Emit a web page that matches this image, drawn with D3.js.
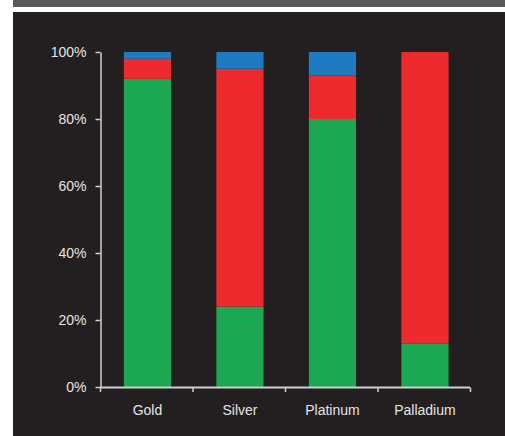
<!DOCTYPE html>
<html><head><meta charset="utf-8">
<script src="https://cdn.jsdelivr.net/npm/d3@7/dist/d3.min.js"></script>
<style>html,body{margin:0;padding:0;background:#fff;}svg{display:block;}</style>
</head><body>
<svg id="c" width="505" height="436"></svg>
<script>
const categories = ["Gold", "Silver", "Platinum", "Palladium"];
const seriesNames = ["green", "red", "blue"];
const greenValues = [92, 24, 80, 13];
const redValues = [6, 71, 13, 87];
const blueValues = [2, 5, 7, 0];
const yTicks = [0, 20, 40, 60, 80, 100];
const colors = {green: "#1ca853", red: "#ee2a2e", blue: "#1f7bc1"};

const svg = d3.select("#c");
svg.append("rect").attr("x", 13).attr("y", 0).attr("width", 492).attr("height", 7).attr("fill", "#58595b");
svg.append("rect").attr("x", 13).attr("y", 12).attr("width", 492).attr("height", 424).attr("fill", "#231f20");

const x = d3.scaleBand().domain(categories).range([101.2, 471.2]).paddingInner(0.49).paddingOuter(0.245);
const y = d3.scaleLinear().domain([0, 100]).range([387, 52]);

const rows = categories.map((c, i) => ({cat: c, green: greenValues[i], red: redValues[i], blue: blueValues[i]}));
const stacked = d3.stack().keys(seriesNames)(rows);

svg.append("g").selectAll("g").data(stacked).join("g")
  .attr("fill", d => colors[d.key])
  .selectAll("rect").data(d => d).join("rect")
  .attr("x", d => x(d.data.cat))
  .attr("width", x.bandwidth())
  .attr("y", d => y(d[1]))
  .attr("height", d => y(d[0]) - y(d[1]));

const axisColor = "#cfcfcf";
const textColor = "#e4e4e4";

// y axis
const yAxis = svg.append("g").attr("transform", "translate(100.5,0)")
  .call(d3.axisLeft(y).tickValues(yTicks).tickFormat(d => d + "%").tickSize(5).tickSizeOuter(0));
yAxis.select(".domain").attr("stroke", axisColor).attr("stroke-width", 1.5);
yAxis.selectAll(".tick line").attr("stroke", axisColor).attr("stroke-width", 1.5);
yAxis.selectAll(".tick text").attr("fill", textColor).attr("font-family", "Liberation Sans, Arial, sans-serif")
  .attr("font-size", 14).attr("x", -14);

// x axis
const xb = d3.scaleLinear().domain([0, categories.length]).range([100, 470]);
const xAxisG = svg.append("g").attr("transform", "translate(0,387.5)");
xAxisG.append("line").attr("x1", xb(0)).attr("x2", xb(categories.length)).attr("stroke", axisColor).attr("stroke-width", 2);
xAxisG.selectAll("line.t").data(d3.range(categories.length + 1)).join("line").attr("class", "t")
  .attr("x1", d => xb(d) + 0.5).attr("x2", d => xb(d) + 0.5).attr("y1", 0).attr("y2", 4.5)
  .attr("stroke", axisColor).attr("stroke-width", 1.5);
xAxisG.selectAll("text").data(categories).join("text")
  .attr("x", d => x(d) + x.bandwidth() / 2).attr("y", 27)
  .attr("text-anchor", "middle").attr("fill", textColor)
  .attr("font-family", "Liberation Sans, Arial, sans-serif").attr("font-size", 14)
  .text(d => d);
</script>
</body></html>
